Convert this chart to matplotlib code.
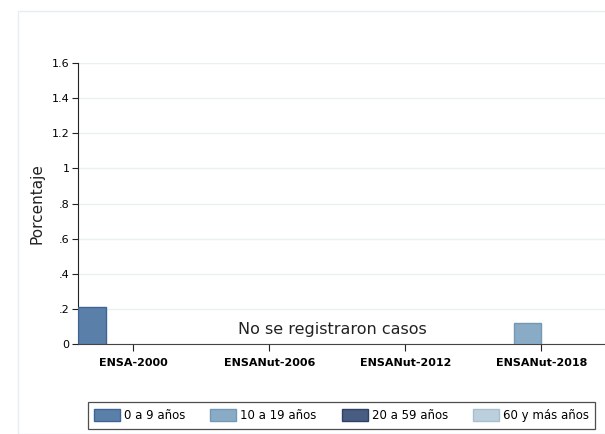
import matplotlib
matplotlib.use("Agg")
import matplotlib.pyplot as plt
from matplotlib.patches import Rectangle, Patch
import numpy as np

categories = ["ENSA-2000", "ENSANut-2006", "ENSANut-2012", "ENSANut-2018"]
series_names = ["0 a 9 años", "10 a 19 años", "20 a 59 años", "60 y más años"]
values = {
    "0 a 9 años":    [0.21, 0.0, 0.0, 0.0],
    "10 a 19 años":  [0.0, 0.0, 0.0, 0.12],
    "20 a 59 años":  [0.0, 0.0, 0.0, 0.0],
    "60 y más años": [0.0, 0.0, 0.0, 0.0],
}
yticks = [0, 0.2, 0.4, 0.6, 0.8, 1.0, 1.2, 1.4, 1.6]
ytick_labels = ["0", ".2", ".4", ".6", ".8", "1", "1.2", "1.4", "1.6"]
note = "No se registraron casos"

face = ["#5a80aa", "#89abc6", "#495d83", "#bbcfdd"]
edge = ["#3f6493", "#7398b6", "#2f4168", "#a8bfd0"]

plt.rcParams["font.family"] = ["DejaVu Sans"]

W, H = 605, 434
fig = plt.figure(figsize=(W / 100, H / 100), dpi=100)
fig.patch.set_facecolor("white")
fig.patches.append(Rectangle((18 / W, 0), 1.0, 1 - 11 / H, transform=fig.transFigure,
                             fill=False, edgecolor="#e8eef0", linewidth=1.0))

ax = fig.add_axes([78 / W, (H - 344) / H, 527 / W, 281 / H])
w = 0.204
x = np.arange(len(categories))
offsets = (np.arange(4) - 1.5) * w
for i, s in enumerate(series_names):
    vals = np.array(values[s])
    mask = vals > 0
    ax.bar(x[mask] + offsets[i], vals[mask], width=w, color=face[i], edgecolor=edge[i],
           linewidth=1.0, zorder=3)

left = -2 * w
ax.set_xlim(left, left + 527 / 136)
ax.set_ylim(0, 1.6)
ax.set_yticks(yticks)
ax.set_yticklabels(ytick_labels, fontsize=8)
ax.set_xticks(x)
ax.set_xticklabels(categories, fontsize=8, fontweight="bold")
ax.tick_params(axis="x", length=5, pad=5, color="#222222")
ax.tick_params(axis="y", length=4, pad=2, color="#222222")
ax.grid(axis="y", color="#e8f0f2", linewidth=1.0, zorder=0)
for side in ["top", "right"]:
    ax.spines[side].set_visible(False)
ax.spines["left"].set_color("#222222")
ax.spines["bottom"].set_color("#444444")
ax.set_ylabel("Porcentaje", fontsize=11, labelpad=5, color="#222222")

ax.text(1.46, 0.085, note, ha="center", va="center", fontsize=11.5, color="#222222", zorder=4)

handles = [Patch(facecolor=face[i], edgecolor=edge[i], linewidth=1.0) for i in range(4)]
leg = fig.legend(handles, series_names, loc="center", bbox_to_anchor=(341.5 / W, (H - 415.5) / H),
                 ncol=4, fontsize=8.5, frameon=True, fancybox=False, edgecolor="#222222",
                 handlelength=2.2, handleheight=1.25, columnspacing=2.1, handletextpad=0.35,
                 borderpad=0.55, borderaxespad=0)
leg.get_frame().set_linewidth(0.9)

fig.savefig("out.png", dpi=100)
